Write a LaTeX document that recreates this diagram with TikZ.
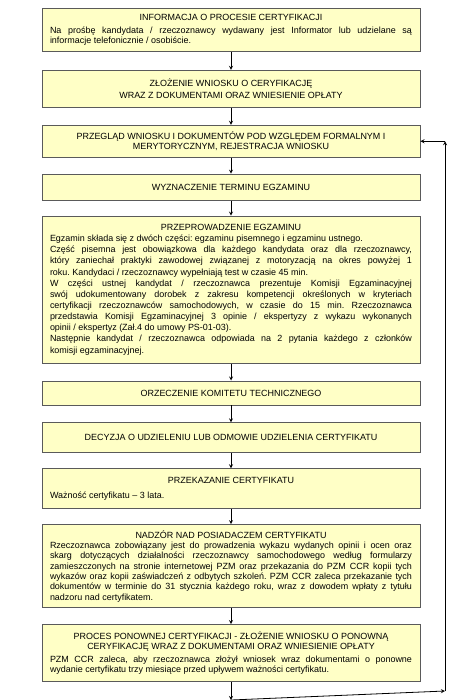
\documentclass[tikz,border=0pt]{standalone}
\usepackage{fontspec}
\setmainfont{Liberation Sans}
\usetikzlibrary{positioning}
\definecolor{boxfill}{HTML}{FFFFC6}
\definecolor{boxline}{HTML}{5A5A5A}
\newcommand\boxhead[1]{{\centering #1\par}}
\frenchspacing

\begin{document}
\begin{tikzpicture}[%
    >=stealth,
    box/.style={draw=boxline, fill=boxfill, line width=0.9bp,
      text width=362bp, inner xsep=8bp, inner ysep=2bp,
      align=justify, font=\fontsize{9}{10.4}\selectfont},
    flow/.style={->, line width=0.8bp}
  ]
    \useasboundingbox (0,0) rectangle (474bp,-700bp);

    \node[box, minimum height=43bp, anchor=north] (info) at (231bp,-8bp)
      {\boxhead{INFORMACJA O PROCESIE CERTYFIKACJI}\vspace{2bp}
       Na prośbę kandydata / rzeczoznawcy wydawany jest Informator lub udzielane są\linebreak
       informacje telefonicznie / osobiście.};
    \node[box, minimum height=37bp, below=18bp of info] (wniosek)
      {\boxhead{ZŁOŻENIE WNIOSKU O CERYFIKACJĘ\\[2bp] WRAZ Z DOKUMENTAMI ORAZ WNIESIENIE OPŁATY}};
    \node[box, minimum height=32bp, below=17bp of wniosek] (przeglad)
      {\boxhead{PRZEGLĄD WNIOSKU I DOKUMENTÓW POD WZGLĘDEM FORMALNYM I\\ MERYTORYCZNYM, REJESTRACJA WNIOSKU}};
    \node[box, minimum height=26bp, below=16bp of przeglad] (termin)
      {\boxhead{WYZNACZENIE TERMINU EGZAMINU}};
    \node[box, minimum height=147bp, below=15bp of termin,
          font=\fontsize{9}{11.2}\selectfont] (egzamin)
      {\boxhead{PRZEPROWADZENIE EGZAMINU}
       Egzamin składa się z dwóch części: egzaminu pisemnego i egzaminu ustnego.\par
       Część pisemna jest obowiązkowa dla każdego kandydata oraz dla rzeczoznawcy,\linebreak
       który zaniechał praktyki zawodowej związanej z motoryzacją na okres powyżej 1\linebreak
       roku. Kandydaci / rzeczoznawcy wypełniają test w czasie 45 min.\par
       W części ustnej kandydat / rzeczoznawca prezentuje Komisji Egzaminacyjnej\linebreak
       swój udokumentowany dorobek z zakresu kompetencji określonych w kryteriach\linebreak
       certyfikacji rzeczoznawców samochodowych, w czasie do 15 min. Rzeczoznawca\linebreak
       przedstawia Komisji Egzaminacyjnej 3 opinie / ekspertyzy z wykazu wykonanych\linebreak
       opinii / ekspertyz (Zał.4 do umowy PS-01-03).\par
       Następnie kandydat / rzeczoznawca odpowiada na 2 pytania każdego z członków\linebreak
       komisji egzaminacyjnej.};
    \node[box, minimum height=24bp, below=17bp of egzamin] (orzeczenie)
      {\boxhead{ORZECZENIE KOMITETU TECHNICZNEGO}};
    \node[box, minimum height=30bp, below=17bp of orzeczenie] (decyzja)
      {\boxhead{DECYZJA O UDZIELENIU LUB ODMOWIE UDZIELENIA CERTYFIKATU}};
    \node[box, minimum height=40bp, below=15bp of decyzja] (przekazanie)
      {\boxhead{PRZEKAZANIE CERTYFIKATU}\vspace{5bp}
       Ważność certyfikatu – 3 lata.};
    \node[box, minimum height=83bp, below=15bp of przekazanie] (nadzor)
      {\boxhead{NADZÓR NAD POSIADACZEM CERTYFIKATU}
       Rzeczoznawca zobowiązany jest do prowadzenia wykazu wydanych opinii i ocen oraz\linebreak
       skarg dotyczących działalności rzeczoznawcy samochodowego według formularzy\linebreak
       zamieszczonych na stronie internetowej PZM oraz przekazania do PZM CCR kopii tych\linebreak
       wykazów oraz kopii zaświadczeń z odbytych szkoleń. PZM CCR zaleca przekazanie tych\linebreak
       dokumentów w terminie do 31 stycznia każdego roku, wraz z dowodem wpłaty z tytułu\linebreak
       nadzoru nad certyfikatem.};
    \node[box, minimum height=57bp, below=16bp of nadzor] (ponowna)
      {\boxhead{PROCES PONOWNEJ CERTYFIKACJI - ZŁOŻENIE WNIOSKU O PONOWNĄ\\
       CERYFIKACJĘ WRAZ Z DOKUMENTAMI ORAZ WNIESIENIE OPŁATY}\vspace{2bp}
       PZM CCR zaleca, aby rzeczoznawca złożył wniosek wraz dokumentami o ponowne\linebreak
       wydanie certyfikatu trzy miesiące przed upływem ważności certyfikatu.};

    % main flow
    \draw[flow] (info) -- (wniosek);
    \draw[flow] (wniosek) -- (przeglad);
    \draw[flow] (przeglad) -- (termin);
    \draw[flow] (termin) -- (egzamin);
    \draw[flow] (egzamin) -- (orzeczenie);
    \draw[flow] (orzeczenie) -- (decyzja);
    \draw[flow] (decyzja) -- (przekazanie);
    \draw[flow] (przekazanie) -- (nadzor);
    \draw[flow] (nadzor) -- (ponowna);

    % return loop
    \coordinate[below=18bp of ponowna] (loopA);
    \coordinate (loopB) at (445bp,-691bp);
    \coordinate (loopC) at (loopB |- przeglad.east);
    \draw[flow] (ponowna) -- (loopA);
    \draw[flow] (loopA) -- (loopB);
    \draw[flow] (loopB) -- (loopC);
    \draw[flow] (loopC) -- (przeglad.east);
  \end{tikzpicture}
\end{document}
